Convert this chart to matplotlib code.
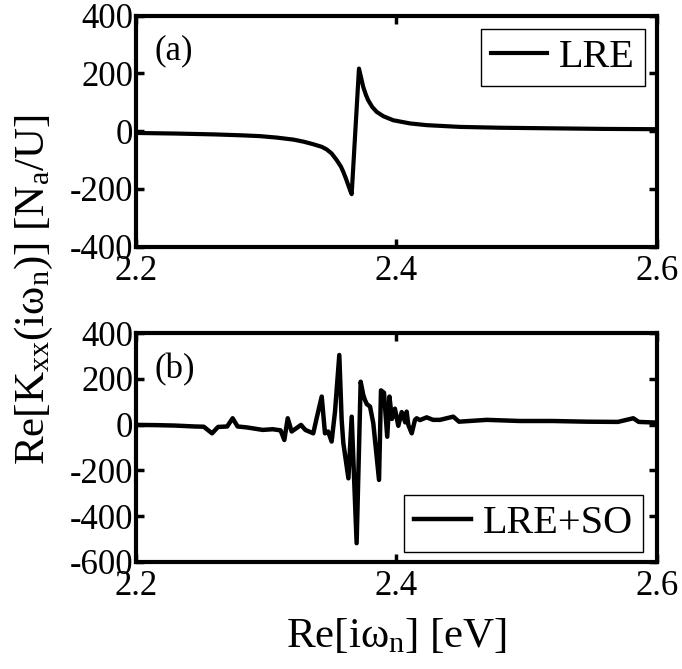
import matplotlib
matplotlib.use('Agg')
import matplotlib.pyplot as plt

plt.rcParams['font.family'] = ['Liberation Serif', 'DejaVu Serif']
plt.rcParams['mathtext.fontset'] = 'custom'
plt.rcParams['mathtext.rm'] = 'Liberation Serif'
plt.rcParams['mathtext.it'] = 'Liberation Serif:italic'
plt.rcParams['mathtext.default'] = 'regular'

# (a) LRE only
x_lre = [2.200, 2.230, 2.260, 2.280, 2.2952, 2.3080, 2.3208, 2.3285, 2.3361, 2.3426,
         2.3464, 2.3502, 2.3541, 2.3574, 2.3592, 2.3612, 2.3630, 2.3645, 2.3656, 2.3712,
         2.3727, 2.3745, 2.3766, 2.3783, 2.3814, 2.3848, 2.3899, 2.3975, 2.4104, 2.4232,
         2.4487, 2.480, 2.520, 2.560, 2.600]
y_lre = [-6, -8, -11, -14, -17, -22, -29, -36, -45, -54,
         -63, -77, -100, -123, -141, -164, -187, -206, -218, 217,
         188, 153, 125, 107, 84, 67, 52, 38, 27, 21,
         15, 12, 10, 8, 7]

# (b) LRE + spin-orbit
x_so = [2.200, 2.215, 2.230, 2.245, 2.252, 2.2584, 2.263, 2.270, 2.2742, 2.278,
        2.285, 2.2973, 2.305, 2.311, 2.3139, 2.3165, 2.3195, 2.324, 2.3267, 2.330,
        2.3361, 2.3387, 2.3426, 2.3451, 2.3475, 2.3502, 2.3528, 2.3561, 2.3579, 2.3592,
        2.3631, 2.3656, 2.3694, 2.3725, 2.3745, 2.3758, 2.3772, 2.3797, 2.3822, 2.3866,
        2.3881, 2.3904, 2.3929, 2.3946, 2.3965, 2.3988, 2.4014, 2.4040, 2.4067, 2.4078,
        2.4091, 2.4117, 2.4142, 2.4155, 2.4180, 2.4232, 2.428, 2.4334, 2.4436, 2.448,
        2.4693, 2.4948, 2.520, 2.5461, 2.570, 2.5818, 2.586, 2.600]
y_so = [-1, -2, -4, -8, -9, -38, -10, -8, 28, -8,
        -12, -23, -20, -25, -67, 28, -30, -12, -1, -23,
        -38, 28, 123, -38, -30, -74, 57, 305, 21, -81,
        -235, 35, -519, 188, 130, 108, 90, 79, 6, -242,
        150, 140, -53, 123, 25, 70, -5, 55, 10, 57,
        -1, -38, 21, 28, 20, 32, 21, 21, 35, 13,
        21, 16, 16, 13, 12, 28, 12, 9]

xticks = [2.2, 2.4, 2.6]
yticks_a = [-400, -200, 0, 200, 400]
yticks_b = [-600, -400, -200, 0, 200, 400]

fig = plt.figure(figsize=(6.82, 6.69), dpi=100)
ax1 = fig.add_axes([0.1994, 0.6312, 0.7639, 0.3453])
ax2 = fig.add_axes([0.1994, 0.1604, 0.7639, 0.3414])


def style_axes(ax, yticks):
    ax.set_xlim(2.2, 2.6)
    ax.set_ylim(yticks[0], yticks[-1])
    ax.set_xticks(xticks)
    ax.set_xticklabels(['%.1f' % t for t in xticks])
    ax.set_yticks(yticks)
    ax.set_yticklabels(['%d' % t for t in yticks])
    ax.tick_params(direction='in', top=True, right=True, length=6, width=2.5,
                   labelsize=25)
    ax.tick_params(axis='x', pad=6)
    ax.tick_params(axis='y', pad=2)
    for sp in ax.spines.values():
        sp.set_linewidth(3)


def add_legend(ax, loc, anchor):
    leg = ax.legend(loc=loc, bbox_to_anchor=anchor, borderaxespad=0,
                    fontsize=29, fancybox=False, edgecolor='black', framealpha=1,
                    handlelength=1.4, handletextpad=0.3, borderpad=0.25)
    leg.get_frame().set_linewidth(1)


ax1.plot(x_lre, y_lre, color='black', lw=3, label='LRE')
style_axes(ax1, yticks_a)
ax1.text(0.036, 0.85, '(a)', transform=ax1.transAxes, fontsize=25, va='center')
add_legend(ax1, 'upper right', (0.977, 0.942))

ax2.plot(x_so, y_so, color='black', lw=3.2, label='LRE+SO')
style_axes(ax2, yticks_b)
ax2.text(0.036, 0.84, '(b)', transform=ax2.transAxes, fontsize=25, va='center')
add_legend(ax2, 'lower right', (0.973, 0.042))

fig.text(0.05, 0.5665, r'$Re[K_{xx}(i\omega_n)]\ [N_a/U]$', rotation=90,
         ha='center', va='center', fontsize=31)
fig.text(0.581, 0.033, r'$Re[i\omega_n]\ [eV]$', ha='center', va='baseline',
         fontsize=31)

fig.savefig('out.png', dpi=100)
